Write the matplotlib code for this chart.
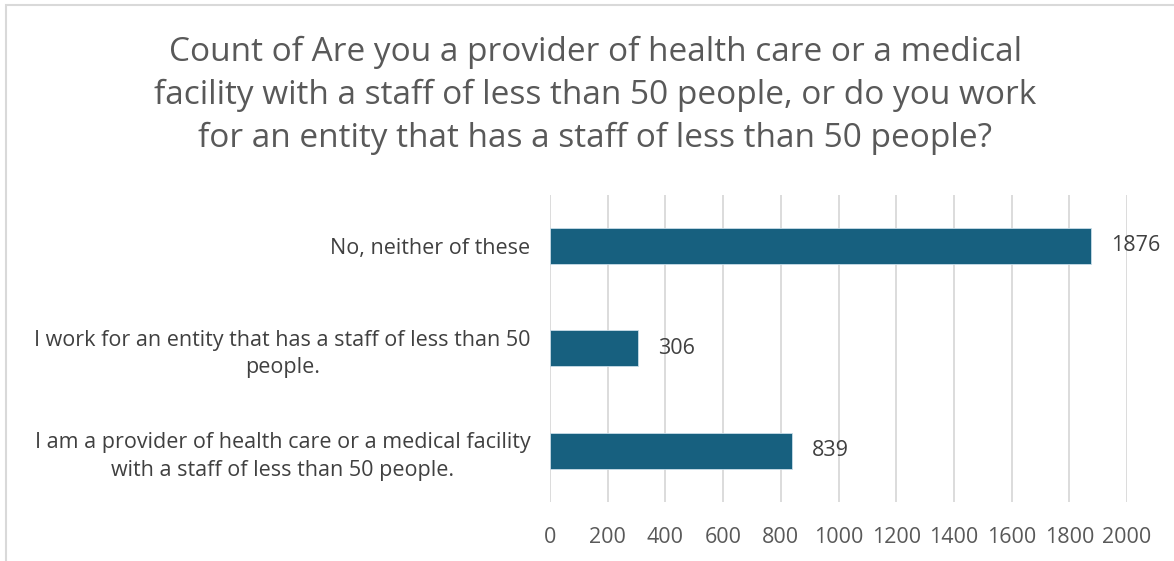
import matplotlib.pyplot as plt
from matplotlib.patches import Rectangle

plt.rcParams['font.family'] = ['Open Sans', 'DejaVu Sans']

# data
categories = [
    "I am a provider of health care or a medical facility\nwith a staff of less than 50 people.",
    "I work for an entity that has a staff of less than 50\npeople.",
    "No, neither of these",
]
counts = [839, 306, 1876]
ticks = [0, 200, 400, 600, 800, 1000, 1200, 1400, 1600, 1800, 2000]
title = ("Count of Are you a provider of health care or a medical\n"
         "facility with a staff of less than 50 people, or do you work\n"
         "for an entity that has a staff of less than 50 people?")

fig = plt.figure(figsize=(11.74, 5.61), dpi=100)
ax = fig.add_axes([0.4685, 0.105, 0.4915, 0.548])

bars = ax.barh(range(len(categories)), counts, height=0.35, color='#17607f',
               edgecolor='#c9dde8', linewidth=0.6, zorder=3)
for b, v in zip(bars, counts):
    ax.text(v + 68, b.get_y() + b.get_height() / 2, str(v), va='center', ha='left',
            fontsize=15.5, color='#404040')

ax.set_xlim(0, 2000)
ax.set_ylim(-0.5, 2.5)
ax.set_xticks(ticks)
ax.set_xticklabels([str(t) for t in ticks], fontsize=15.5, color='#595959')
ax.set_yticks(range(len(categories)))
ax.set_yticklabels(categories, fontsize=15.5, color='#404040')
for lab in ax.get_yticklabels():
    lab.set_multialignment('center')
    lab.set_linespacing(1.4)
ax.tick_params(axis='y', length=0, pad=14)
ax.tick_params(axis='x', length=0, pad=18)
ax.grid(axis='x', color='#d9d9d9', linewidth=1.3, zorder=0)
for s in ax.spines.values():
    s.set_visible(False)

fig.text(0.507, 0.937, title, ha='center', va='top', fontsize=24, color='#595959',
         linespacing=1.4)

# chart border
fig.patches.append(Rectangle((0.005, -0.02), 1.1, 1.011, transform=fig.transFigure,
                             fill=False, edgecolor='#d9d9d9', linewidth=1.5))

fig.savefig('out.png', dpi=100)
